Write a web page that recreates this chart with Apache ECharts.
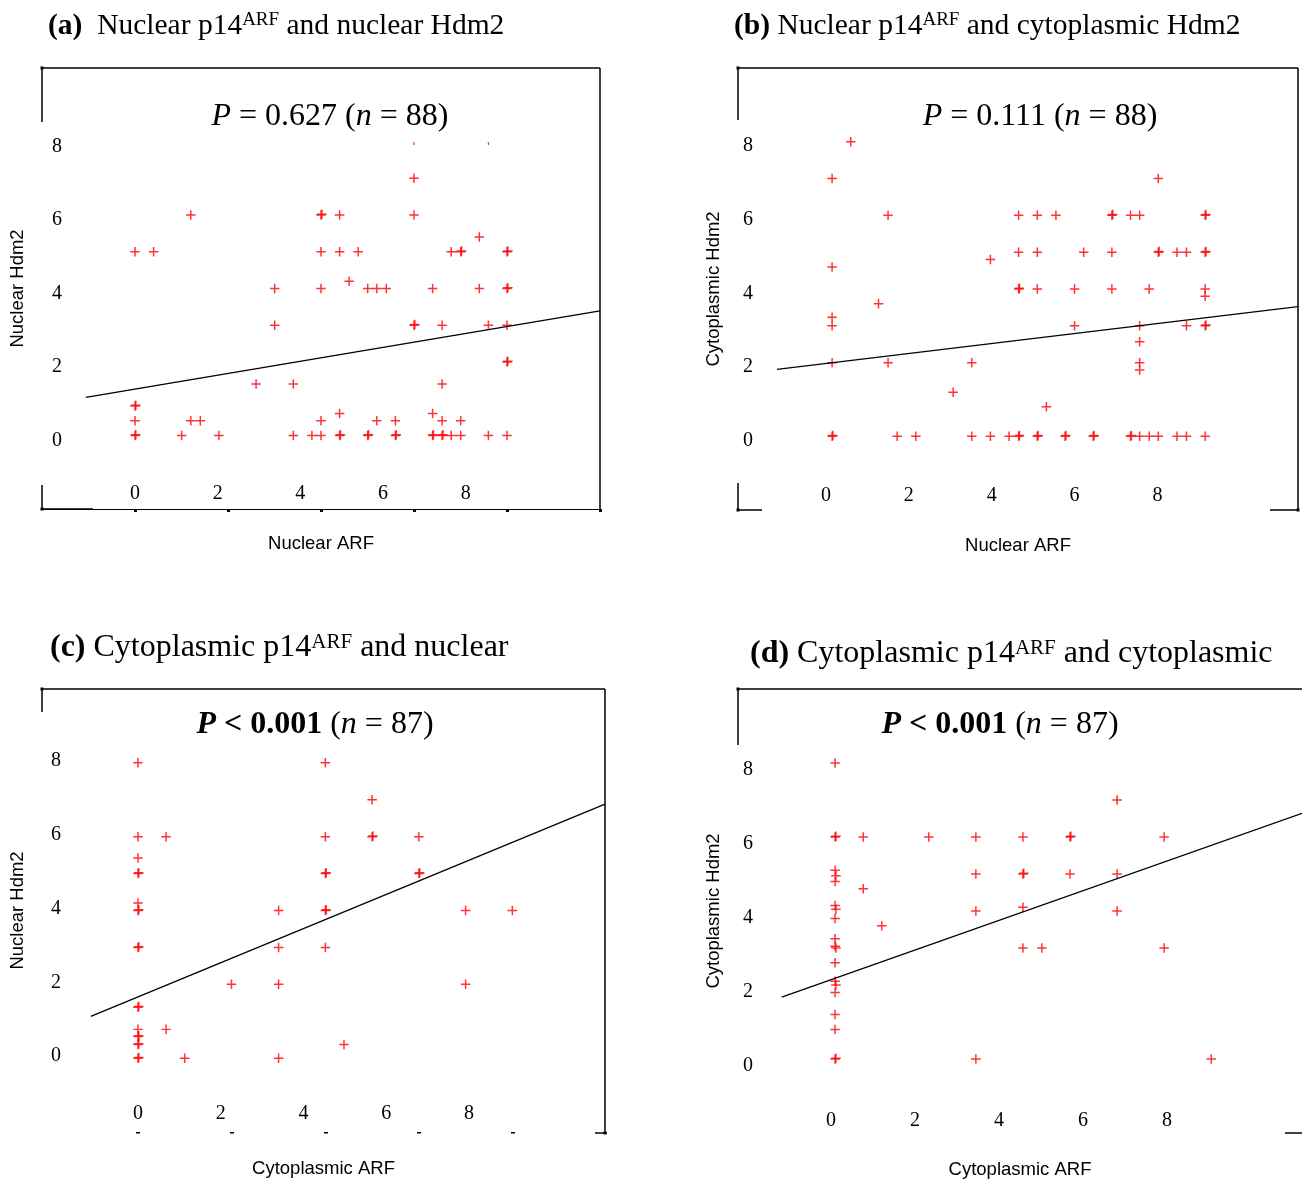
<!DOCTYPE html>
<html>
<head>
<meta charset="utf-8">
<script src="https://cdn.jsdelivr.net/npm/echarts@6/dist/echarts.min.js"></script>
<style>
  html, body { margin: 0; padding: 0; background: #fff; }
  #chart { width: 1302px; height: 1179px; }
</style>
</head>
<body>
<div id="chart"></div>
<script>
const xTickLabels = [0, 2, 4, 6, 8]
const yTickLabels = [0, 2, 4, 6, 8]

// (a) nuclear ARF vs nuclear Hdm2
const nucNucPoints = [
  [0, 5], [0, 0.8], [0.02, 0.82], [0, 0.4], [0, 0], [0.02, 0.02],
  [0.45, 5], [1.13, 0], [1.35, 6], [1.35, 0.4], [1.58, 0.4], [2.03, 0],
  [2.93, 1.4], [3.38, 4], [3.38, 3], [3.83, 1.4], [3.83, 0], [4.28, 0],
  [4.5, 6], [4.52, 6.02], [4.5, 5], [4.5, 4], [4.5, 0.4], [4.5, 0],
  [4.95, 6], [4.95, 5], [4.95, 0.6], [4.95, 0], [4.97, 0.02],
  [5.18, 4.2], [5.4, 5], [5.63, 4], [5.63, 0], [5.65, 0.02],
  [5.85, 4], [5.85, 0.4], [6.08, 4], [6.3, 0.4], [6.3, 0], [6.32, 0.02],
  [6.75, 7], [6.75, 6], [6.75, 3], [6.77, 3.02],
  [7.2, 4], [7.2, 0.6], [7.2, 0], [7.22, 0.02],
  [7.43, 3], [7.43, 1.4], [7.43, 0.4], [7.43, 0], [7.45, 0.02],
  [7.65, 5], [7.65, 0], [7.88, 5], [7.9, 5.02], [7.88, 0.4], [7.88, 0],
  [8.33, 5.4], [8.33, 4], [8.55, 3], [8.55, 0],
  [9, 5], [9.02, 5.02], [9, 4], [9.02, 4.02], [9, 3], [9, 2], [9.02, 2.02], [9, 0]
]
const nucNucClipped = [[6.75, 8], [8.55, 8]]
const nucNucFit = [[-1.19, 1.04], [11.25, 3.39]]

// (b) nuclear ARF vs cytoplasmic Hdm2
const nucCytPoints = [
  [0.15, 7], [0.15, 4.6], [0.15, 3.23], [0.15, 3], [0.15, 2], [0.15, 0], [0.17, 0.02],
  [0.6, 8], [1.27, 3.6], [1.5, 6], [1.5, 2], [1.72, 0], [2.17, 0],
  [3.07, 1.2], [3.52, 2], [3.52, 0], [3.97, 4.8], [3.97, 0], [4.42, 0],
  [4.65, 6], [4.65, 5], [4.65, 4], [4.67, 4.02], [4.65, 0], [4.67, 0.02],
  [5.1, 6], [5.1, 5], [5.1, 4], [5.1, 0], [5.12, 0.02],
  [5.32, 0.8], [5.55, 6], [5.77, 0], [5.79, 0.02], [6.0, 4], [6.0, 3], [6.22, 5],
  [6.45, 0], [6.47, 0.02], [6.9, 6], [6.92, 6.02], [6.9, 5], [6.9, 4],
  [7.35, 6], [7.35, 0], [7.37, 0.02],
  [7.57, 6], [7.57, 3], [7.57, 2.57], [7.57, 2], [7.57, 1.8], [7.57, 0],
  [7.8, 4], [7.8, 0], [8.02, 7], [8.02, 5], [8.04, 5.02], [8.02, 0],
  [8.47, 5], [8.47, 0], [8.7, 5], [8.7, 3], [8.7, 0],
  [9.15, 6], [9.17, 6.02], [9.15, 5], [9.17, 5.02], [9.15, 4], [9.15, 3.8],
  [9.15, 3], [9.17, 3.02], [9.15, 0]
]
const nucCytFit = [[-1.18, 1.82], [11.39, 3.52]]

// (c) cytoplasmic ARF vs nuclear Hdm2
const cytNucPoints = [
  [0, 8], [0, 6], [0, 5.42], [0, 5], [0.02, 5.02], [0, 4.2], [0, 4], [0.02, 4.02],
  [0, 3], [0.02, 3.02], [0, 1.38], [0.02, 1.4], [0, 0.78], [0, 0.59], [0.02, 0.61],
  [0, 0.37], [0.02, 0.39], [0, 0], [0.02, 0.02],
  [0.68, 6], [0.68, 0.78], [1.13, 0], [2.26, 2],
  [3.4, 4], [3.4, 3], [3.4, 2], [3.4, 0],
  [4.53, 8], [4.53, 6], [4.53, 5], [4.55, 5.02], [4.53, 4], [4.55, 4.02], [4.53, 3],
  [4.98, 0.37], [5.66, 7], [5.66, 6], [5.68, 6.02],
  [6.79, 6], [6.79, 5], [6.81, 5.02], [7.92, 4], [7.92, 2], [9.05, 4]
]
const cytNucFit = [[-1.14, 1.13], [11.29, 6.88]]

// (d) cytoplasmic ARF vs cytoplasmic Hdm2
const cytCytPoints = [
  [0.1, 8], [0.1, 6], [0.12, 6.02], [0.1, 5.1], [0.12, 4.95], [0.1, 4.8],
  [0.1, 4.15], [0.12, 4.05], [0.1, 3.8], [0.1, 3.25], [0.1, 3.05], [0.12, 3.0],
  [0.1, 2.6], [0.1, 2.1], [0.12, 2.0], [0.1, 1.8], [0.1, 1.2], [0.1, 0.8],
  [0.1, 0], [0.12, 0.02],
  [0.77, 6], [0.77, 4.6], [1.21, 3.6], [2.33, 6],
  [3.45, 6], [3.45, 5], [3.45, 4], [3.45, 0],
  [4.57, 6], [4.57, 5], [4.59, 5.02], [4.57, 4.1], [4.57, 3],
  [5.02, 3], [5.69, 6], [5.71, 6.02], [5.69, 5],
  [6.81, 7], [6.81, 5], [6.81, 4], [7.93, 6], [7.93, 3], [9.05, 0]
]
const cytCytFit = [[-1.17, 1.67], [11.21, 6.64]]

const serif = 'Liberation Serif'
const sans = 'Liberation Sans'
const plus = 'path://M6.75,0H9.25V6.75H16V9.25H9.25V16H6.75V9.25H0V6.75H6.75Z'

// yLabelAlign / yLabelLh nudge the y tick labels off their ticks as in the original
const panels = [
  {
    grid: { left: 42, top: 68, width: 558, height: 441 },
    xMin: -2.25, xMax: 11.25, xName: 'Nuclear ARF', yName: 'Nuclear Hdm2',
    xLabelMargin: 5, yLabelMargin: 10, yLabelAlign: 'top', yLabelLh: 10, xNameGap: 25,
    bottomLine: true, ticks: [0, 2.25, 4.5, 6.75, 9, 11.25], tickLen: 3, tickWidth: 3,
    points: nucNucPoints, fit: nucNucFit,
  },
  {
    grid: { left: 738, top: 68, width: 560, height: 442 },
    xMin: -2.12, xMax: 11.39, xName: 'Nuclear ARF', yName: 'Cytoplasmic Hdm2',
    xLabelMargin: 4, yLabelMargin: 5, yLabelAlign: 'top', yLabelLh: 9, xNameGap: 26,
    points: nucCytPoints, fit: nucCytFit,
  },
  {
    grid: { left: 42, top: 689, width: 563, height: 443 },
    xMin: -2.32, xMax: 11.29, xName: 'Cytoplasmic ARF', yName: 'Nuclear Hdm2',
    xLabelMargin: 8, yLabelMargin: 9, yLabelAlign: 'bottom', yLabelLh: 4, xNameGap: 27,
    ticks: [0, 2.26, 4.53, 6.79, 9.05], tickLen: 1.5, tickWidth: 4,
    points: cytNucPoints, fit: cytNucFit,
  },
  {
    grid: { left: 738, top: 689, width: 564, height: 444 },
    xMin: -2.21, xMax: 11.21, xName: 'Cytoplasmic ARF', yName: 'Cytoplasmic Hdm2',
    xLabelMargin: 2, yLabelMargin: 5, yLabelAlign: 'top', yLabelLh: 13, xNameGap: 27,
    points: cytCytPoints, fit: cytCytFit,
  },
]

const headings = [
  { x: 48, y: 26, size: 29.5, text: '{b|(a)}  Nuclear p14{s|ARF} and nuclear Hdm2' },
  { x: 734, y: 26, size: 29.5, text: '{b|(b)} Nuclear p14{s|ARF} and cytoplasmic Hdm2' },
  { x: 50, y: 648, size: 32, text: '{b|(c)} Cytoplasmic p14{s|ARF} and nuclear' },
  { x: 750, y: 654, size: 32, text: '{b|(d)} Cytoplasmic p14{s|ARF} and cytoplasmic' },
]
const stats = [
  { x: 330, y: 117, text: '{i|P} = 0.627 ({i|n} = 88)' },
  { x: 1040, y: 117, text: '{i|P} = 0.111 ({i|n} = 88)' },
  { x: 315, y: 725, text: '{bi|P} {b|< 0.001} ({i|n} = 87)' },
  { x: 1000, y: 725, text: '{bi|P} {b|< 0.001} ({i|n} = 87)' },
]

// frame pieces of the original figure
const frameSegs = [
  [42, 68, 600, 68], [600, 68, 600, 509], [42, 68, 42, 122], [42, 485, 42, 509], [42, 509, 93, 509],
  [738, 68, 1298, 68], [1298, 68, 1298, 510], [738, 68, 738, 120], [738, 483, 738, 510],
  [738, 510, 762, 510], [1270, 510, 1298, 510],
  [42, 689, 605, 689], [42, 689, 42, 712], [605, 689, 605, 1133], [595, 1133, 607, 1133],
  [738, 689, 1302, 689], [738, 689, 738, 745], [1285, 1133, 1302, 1133],
]
const cornerDots = [[42, 68], [42, 509], [738, 68], [738, 510], [1298, 510], [42, 689], [605, 1133], [738, 689]]

const chart = echarts.init(document.getElementById('chart'))

function titleStyle(size) {
  return {
    fontFamily: serif, fontSize: size, fontWeight: 'normal', color: '#000',
    rich: {
      b: { fontFamily: serif, fontSize: size, fontWeight: 'bold', color: '#000' },
      s: { fontFamily: serif, fontSize: Math.round(size * 0.65), fontWeight: 'normal', color: '#000', verticalAlign: 'top' },
    },
  }
}
const statStyle = {
  fontFamily: serif, fontSize: 32, fontWeight: 'normal', color: '#000',
  rich: {
    i: { fontFamily: serif, fontSize: 32, fontWeight: 'normal', fontStyle: 'italic', color: '#000' },
    b: { fontFamily: serif, fontSize: 32, fontWeight: 'bold', color: '#000' },
    bi: { fontFamily: serif, fontSize: 32, fontWeight: 'bold', fontStyle: 'italic', color: '#000' },
  },
}

const option = {
  backgroundColor: '#fff',
  animation: false,
  title: [
    ...headings.map((h) => ({
      text: h.text, left: h.x, top: h.y, padding: 0,
      textAlign: 'left', textVerticalAlign: 'middle', textStyle: titleStyle(h.size),
    })),
    ...stats.map((s) => ({
      text: s.text, left: s.x, top: s.y, padding: 0,
      textAlign: 'center', textVerticalAlign: 'middle', textStyle: statStyle,
    })),
  ],
  grid: panels.map((p) => ({ ...p.grid, outerBoundsMode: 'none', containLabel: false })),
  xAxis: panels.map((p, i) => ({
    gridIndex: i, type: 'value', min: p.xMin, max: p.xMax, position: 'bottom',
    axisLine: { show: !!p.bottomLine, onZero: false, lineStyle: { color: '#000', width: 1 } },
    axisTick: {
      show: !!p.ticks, customValues: p.ticks, length: p.tickLen,
      lineStyle: { color: '#000', width: p.tickWidth },
    },
    axisLabel: {
      inside: true, margin: p.xLabelMargin, customValues: xTickLabels,
      fontFamily: serif, fontSize: 20, color: '#000',
    },
    splitLine: { show: false },
    name: p.xName, nameLocation: 'middle', nameGap: p.xNameGap,
    nameTextStyle: { fontFamily: sans, fontSize: 18.5, color: '#000' },
  })),
  yAxis: panels.map((p, i) => ({
    gridIndex: i, type: 'value', min: -2, max: 10, position: 'left',
    axisLine: { show: false, onZero: false },
    axisTick: { show: false },
    axisLabel: {
      inside: true, margin: p.yLabelMargin, customValues: yTickLabels,
      fontFamily: serif, fontSize: 20, color: '#000',
      verticalAlign: p.yLabelAlign, lineHeight: p.yLabelLh,
    },
    splitLine: { show: false },
    name: p.yName, nameLocation: 'middle', nameGap: 15,
    nameTextStyle: { fontFamily: sans, fontSize: 18.5, color: '#000' },
  })),
  series: [
    ...panels.map((p, i) => ({
      type: 'scatter', xAxisIndex: i, yAxisIndex: i, data: p.points,
      symbol: plus, symbolSize: 9.5, itemStyle: { color: '#ff0000' }, silent: true,
    })),
    {
      type: 'scatter', xAxisIndex: 0, yAxisIndex: 0, data: nucNucClipped,
      symbol: 'rect', symbolSize: [1.2, 3], symbolOffset: [0, 2], itemStyle: { color: '#ff0000' }, silent: true,
    },
    ...panels.map((p, i) => ({
      type: 'line', xAxisIndex: i, yAxisIndex: i, data: p.fit,
      symbol: 'none', lineStyle: { color: '#000', width: 1.3 }, silent: true,
    })),
  ],
  graphic: [
    ...frameSegs.map((s) => ({
      type: 'line', shape: { x1: s[0], y1: s[1], x2: s[2], y2: s[3] },
      style: { stroke: '#000', lineWidth: 1.5 }, silent: true,
    })),
    ...cornerDots.map((d) => ({
      type: 'rect', shape: { x: d[0] - 1.5, y: d[1] - 1.5, width: 3, height: 3 },
      style: { fill: '#000' }, silent: true,
    })),
  ],
}

chart.setOption(option)
window.addEventListener('resize', () => chart.resize())
</script>
</body>
</html>
